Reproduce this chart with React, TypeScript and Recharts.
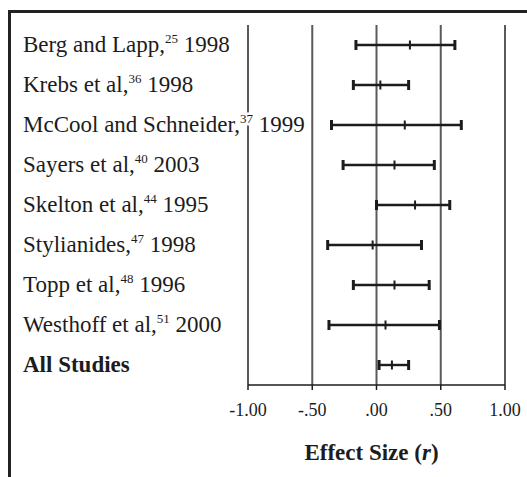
import React from "react";
import { ComposedChart, Bar, XAxis, YAxis, CartesianGrid } from "recharts";

const studies = [
  "Berg and Lapp,",
  "Krebs et al,",
  "McCool and Schneider,",
  "Sayers et al,",
  "Skelton et al,",
  "Stylianides,",
  "Topp et al,",
  "Westhoff et al,",
  "All Studies",
];
const refs = ["25", "36", "37", "40", "44", "47", "48", "51", ""];
const years = ["1998", "1998", "1999", "2003", "1995", "1998", "1996", "2000", ""];
const lowValues = [-0.16, -0.18, -0.35, -0.26, 0.0, -0.38, -0.18, -0.37, 0.02];
const midValues = [0.26, 0.03, 0.22, 0.14, 0.3, -0.03, 0.14, 0.07, 0.12];
const highValues = [0.61, 0.25, 0.66, 0.45, 0.57, 0.35, 0.41, 0.49, 0.25];
const xTicks = [-1, -0.5, 0, 0.5, 1];
const xTickLabels = ["-1.00", "-.50", ".00", ".50", "1.00"];
const axisTitle = "Effect Size";
const axisTitleVar = "r";

const data = studies.map((name, i) => ({
  name,
  ref: refs[i],
  year: years[i],
  bold: i === studies.length - 1,
  low: lowValues[i],
  mid: midValues[i],
  high: highValues[i],
}));

const FONT = "'Liberation Serif', 'Times New Roman', serif";
const INK = "#1c1c1c";

const Whisker = (props: any) => {
  const { x, y, width, height, payload } = props;
  if (x == null || width == null) return null;
  const cy = y + height / 2;
  const x1 = x;
  const x2 = x + width;
  const span = payload.high - payload.low;
  const xm = x + (span === 0 ? 0 : (width * (payload.mid - payload.low)) / span);
  return (
    <g>
      <line x1={x1} y1={cy} x2={x2} y2={cy} stroke={INK} strokeWidth={2.4} />
      <line x1={x1} y1={cy - 5} x2={x1} y2={cy + 5} stroke={INK} strokeWidth={3} />
      <line x1={x2} y1={cy - 5} x2={x2} y2={cy + 5} stroke={INK} strokeWidth={3} />
      <line x1={xm} y1={cy - 4.5} x2={xm} y2={cy + 4.5} stroke={INK} strokeWidth={2} />
    </g>
  );
};

const StudyTick = (props: any) => {
  const { y, index } = props;
  const d = data[index];
  if (!d) return null;
  return (
    <text
      x={23}
      y={y}
      dy={7}
      textAnchor="start"
      fontFamily={FONT}
      fontSize={23}
      fontWeight={d.bold ? 700 : 400}
      fill={INK}
      stroke="#fff"
      strokeWidth={5}
      paintOrder="stroke"
      strokeLinejoin="round"
    >
      <tspan>{d.name}</tspan>
      {d.ref ? (
        <tspan fontSize={13} dy={-9}>
          {d.ref}
        </tspan>
      ) : null}
      {d.year ? (
        <tspan dy={d.ref ? 9 : 0}>{" " + d.year}</tspan>
      ) : null}
    </text>
  );
};

const XTick = (props: any) => {
  const { x, y, index } = props;
  return (
    <text
      x={x}
      y={y}
      dy={14}
      textAnchor="middle"
      fontFamily={FONT}
      fontSize={18}
      fill={INK}
    >
      {xTickLabels[index]}
    </text>
  );
};

const AxisTitle = (props: any) => {
  const vb = props.viewBox || {};
  return (
    <text
      x={vb.x + vb.width / 2 - 5}
      y={vb.y + 75}
      textAnchor="middle"
      fontFamily={FONT}
      fontSize={23}
      fontWeight={700}
      fill={INK}
    >
      {axisTitle + " ("}
      <tspan fontStyle="italic">{axisTitleVar}</tspan>
      {")"}
    </text>
  );
};

export default function App() {
  return (
    <div
      style={{
        position: "absolute",
        left: 0,
        top: 0,
        width: 527,
        height: 477,
        overflow: "hidden",
        background: "#fff",
      }}
    >
      <div
        style={{
          position: "absolute",
          left: 8,
          top: 10,
          width: 700,
          height: 700,
          borderTop: "3px solid #222",
          borderLeft: "3px solid #222",
          boxSizing: "border-box",
        }}
      />
      <div style={{ position: "absolute", left: 0, top: 0 }}>
        <ComposedChart
          width={527}
          height={477}
          layout="vertical"
          data={data}
          margin={{ top: 25, right: 22, bottom: 0, left: 0 }}
          barCategoryGap={0}
        >
          <CartesianGrid
            horizontal={false}
            vertical={true}
            stroke="#5a5a5a"
            strokeWidth={2}
          />
          <XAxis
            type="number"
            domain={[-1, 1]}
            ticks={xTicks}
            interval={0}
            height={92}
            tickSize={5}
            tickMargin={12}
            axisLine={{ stroke: INK, strokeWidth: 1.5 }}
            tickLine={{ stroke: INK, strokeWidth: 1.5 }}
            tick={<XTick />}
            label={<AxisTitle />}
            allowDataOverflow
          />
          <YAxis
            type="category"
            dataKey="name"
            width={248}
            axisLine={false}
            tickLine={false}
            interval={0}
            tick={<StudyTick />}
          />
          <Bar
            dataKey={(d: any) => [d.low, d.high]}
            barSize={10}
            shape={<Whisker />}
            isAnimationActive={false}
          />
        </ComposedChart>
      </div>
    </div>
  );
}
